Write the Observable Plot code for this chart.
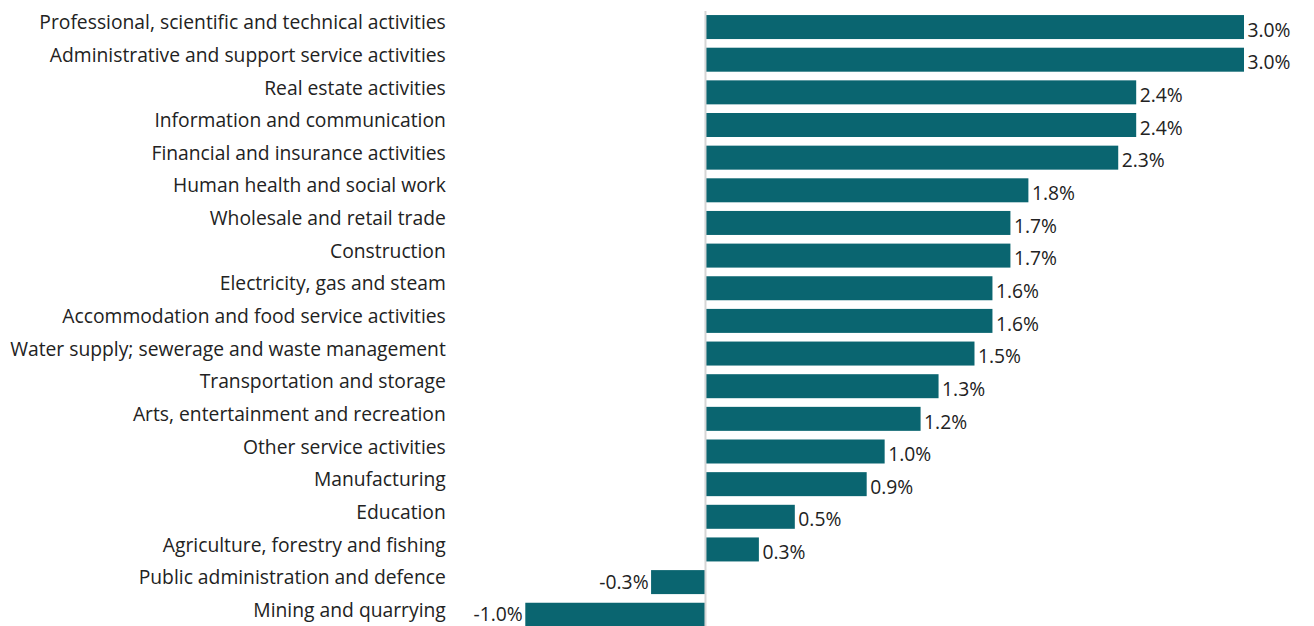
<!DOCTYPE html>
<html>
<head>
<meta charset="utf-8">
<script src="https://cdn.jsdelivr.net/npm/d3@7"></script>
<script src="https://cdn.jsdelivr.net/npm/@observablehq/plot@0.6"></script>
<style>
  html, body { margin: 0; padding: 0; background: #fff; }
  #chart svg { display: block; }
</style>
</head>
<body>
<div id="chart"></div>
<script>
const categories = [
  "Professional, scientific and technical activities",
  "Administrative and support service activities",
  "Real estate activities",
  "Information and communication",
  "Financial and insurance activities",
  "Human health and social work",
  "Wholesale and retail trade",
  "Construction",
  "Electricity, gas and steam",
  "Accommodation and food service activities",
  "Water supply; sewerage and waste management",
  "Transportation and storage",
  "Arts, entertainment and recreation",
  "Other service activities",
  "Manufacturing",
  "Education",
  "Agriculture, forestry and fishing",
  "Public administration and defence",
  "Mining and quarrying"
];
const values = [3.0, 3.0, 2.4, 2.4, 2.3, 1.8, 1.7, 1.7, 1.6, 1.6, 1.5, 1.3, 1.2, 1.0, 0.9, 0.5, 0.3, -0.3, -1.0];

const data = categories.map((c, i) => ({category: c, value: values[i], label: values[i].toFixed(1) + "%"}));
const pos = data.filter(d => d.value >= 0);
const neg = data.filter(d => d.value < 0);

const font = "'Open Sans', sans-serif";
const fs = 19.3;
const chart = Plot.plot({
  width: 1314,
  height: 626,
  marginLeft: 525.3,
  marginRight: 70,
  marginTop: 11,
  marginBottom: 0,
  style: {fontFamily: font, fontSize: fs + "px", color: "#222", background: "#fff"},
  x: {domain: [-1, 3], axis: null},
  y: {domain: categories, range: [6.4, 635.4], padding: 0.265, round: false, label: null},
  marks: [
    Plot.axisY({tickSize: 0, tickPadding: 80, fontSize: fs, dy: -4.5, fill: "#222", label: null}),
    Plot.barX(data, {y: "category", x: "value", fill: "#0a6570"}),
    Plot.ruleX([0], {stroke: "#d6d6d6", strokeWidth: 2}),
    Plot.text(pos, {y: "category", x: "value", text: "label", textAnchor: "start", dx: 3, dy: 3, fontSize: fs, fill: "#222"}),
    Plot.text(neg, {y: "category", x: "value", text: "label", textAnchor: "end", dx: -3, dy: 0, fontSize: fs, fill: "#222"})
  ]
});
document.getElementById("chart").appendChild(chart);
</script>
</body>
</html>
